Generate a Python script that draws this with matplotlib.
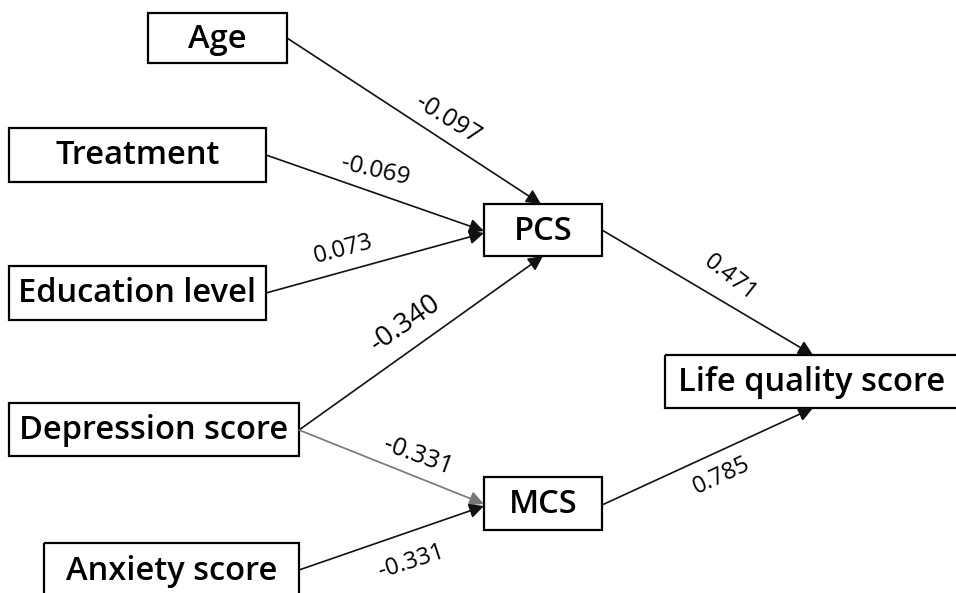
import matplotlib.pyplot as plt
from matplotlib.patches import Rectangle

# path model data
nodes = ["Age", "Treatment", "Education level", "Depression score",
         "Anxiety score", "PCS", "MCS", "Life quality score"]
path_from = ["Age", "Treatment", "Education level", "Depression score",
             "Depression score", "Anxiety score", "PCS", "MCS"]
path_to = ["PCS", "PCS", "PCS", "PCS", "MCS", "MCS",
           "Life quality score", "Life quality score"]
coefs = ["-0.097", "-0.069", "0.073", "-0.340", "-0.331", "-0.331", "0.471", "0.785"]

# layout (pixel space, y down)
boxes = {
    "Age": (148, 13, 287, 63),
    "Treatment": (9, 128, 266, 182),
    "Education level": (9, 266, 266, 320),
    "Depression score": (9, 403, 299, 456),
    "Anxiety score": (44, 543, 299, 597),
    "PCS": (484, 204, 602, 256),
    "MCS": (484, 477, 602, 530),
    "Life quality score": (665, 355, 958, 408),
}
starts = [(287, 38), (266, 155), (266, 293), (299, 430),
          (299, 430), (299, 570), (602, 230), (602, 505)]
ends = [(541, 204), (484, 231), (484, 233), (543, 256),
        (484, 504), (484, 506), (813, 355), (813, 408)]
label_pos = [(448, 119), (375, 171), (343, 249), (405, 323),
             (418, 456), (411, 562), (730, 278), (722, 476)]
label_rot = [-32, -13, 15, 35, -20, 18, -38, 25]
label_size = [18, 17.5, 17, 20, 18, 17, 17, 17]
line_colors = ["#111111"] * 8
line_colors[4] = "#777777"

plt.rcParams['font.family'] = ['Open Sans', 'DejaVu Sans']

fig = plt.figure(figsize=(9.56, 5.93), dpi=100)
ax = fig.add_axes([0, 0, 1, 1])
ax.set_xlim(0, 956)
ax.set_ylim(593, 0)
ax.axis('off')

for name in nodes:
    x0, y0, x1, y1 = boxes[name]
    ax.add_patch(Rectangle((x0, y0), x1 - x0, y1 - y0, fill=False,
                           edgecolor='black', lw=1.6, zorder=3))
    ax.text((x0 + x1) / 2, (y0 + y1) / 2 + 1, name, ha='center', va='center',
            fontsize=23.5, fontweight='semibold', zorder=4)

for i in range(len(path_from)):
    ax.annotate("", xy=ends[i], xytext=starts[i],
                arrowprops=dict(arrowstyle='-|>', color=line_colors[i],
                                lw=1.2, mutation_scale=22,
                                shrinkA=0, shrinkB=0))
    ax.text(label_pos[i][0], label_pos[i][1], coefs[i], rotation=label_rot[i],
            ha='center', va='center', fontsize=label_size[i],
            rotation_mode='anchor')

fig.savefig('out.png', dpi=100)
